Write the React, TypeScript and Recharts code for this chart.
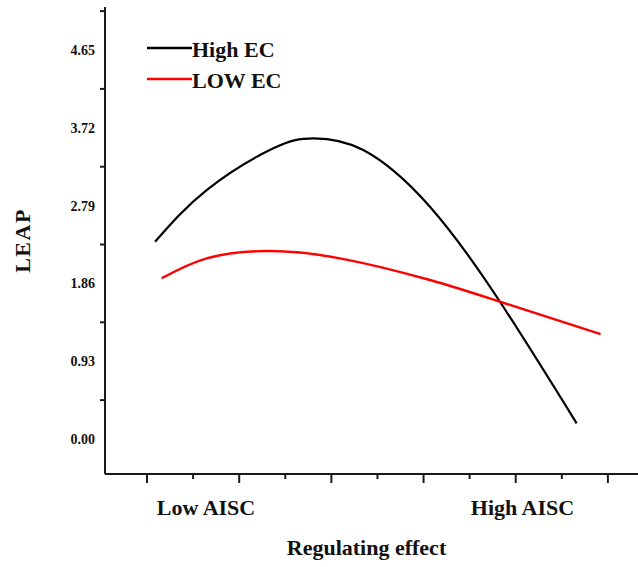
import React from 'react';
import { LineChart, Line, XAxis, YAxis, Legend } from 'recharts';

// x is measured in major-tick steps, y in LEAP units
const highX = [0.087, 0.647, 1.37, 1.804, 2.346, 3.069, 3.829, 4.661];
const highY = [2.358, 2.976, 3.475, 3.594, 3.454, 2.777, 1.641, 0.188];
const lowX = [0.159, 0.647, 1.298, 2.093, 3.069, 3.829, 4.921];
const lowY = [1.921, 2.16, 2.247, 2.16, 1.901, 1.641, 1.255];

const yLabelTicks = [0, 0.93, 1.86, 2.79, 3.72, 4.65];
const yMarkTicks = [0.465, 1.395, 2.325, 3.255, 4.185, 5.115];
const xMajorTicks = [0, 1, 2, 3, 4, 5];
const xMinorTicks = [0.5, 1.5, 2.5, 3.5, 4.5];
const xCategoryTicks = [0.64, 4.073];
const xCategoryLabels = ['Low AISC', 'High AISC'];

const highData = highX.map((x, i) => ({ x, y: highY[i] }));
const lowData = lowX.map((x, i) => ({ x, y: lowY[i] }));

const FONT = "'Times New Roman', 'Liberation Serif', serif";
const AXIS = '#1a1a1a';

function YTick(props: any) {
  const { x, y, payload } = props;
  const v = payload.value;
  if (yLabelTicks.includes(v)) {
    return (
      <text x={x - 10} y={y} dy={5} textAnchor="end" fontFamily={FONT} fontWeight="bold" fontSize={14} fill="#111">
        {v.toFixed(2)}
      </text>
    );
  }
  return <line x1={x - 5} x2={x} y1={y} y2={y} stroke={AXIS} strokeWidth={2} />;
}

function XTick(props: any) {
  const { x, y, payload } = props;
  const v = payload.value;
  const ci = xCategoryTicks.indexOf(v);
  if (ci >= 0) {
    return (
      <text x={x} y={y + 41} textAnchor="middle" fontFamily={FONT} fontWeight="bold" fontSize={22} fill="#111">
        {xCategoryLabels[ci]}
      </text>
    );
  }
  const len = xMajorTicks.includes(v) ? 9 : 5;
  return <line x1={x} x2={x} y1={y} y2={y + len} stroke={AXIS} strokeWidth={2} />;
}

function LegendBox() {
  const rows = [
    { name: 'High EC', color: '#000000' },
    { name: 'LOW EC', color: '#ff0000' },
  ];
  return (
    <svg width={170} height={64}>
      {rows.map((r, i) => (
        <g key={r.name}>
          <line x1={2} x2={47} y1={15 + i * 31} y2={15 + i * 31} stroke={r.color} strokeWidth={2.6} />
          <text x={47} y={24 + i * 31} fontFamily={FONT} fontWeight="bold" fontSize={22} fill="#111">
            {r.name}
          </text>
        </g>
      ))}
    </svg>
  );
}

export default function App() {
  return (
    <div style={{ position: 'absolute', left: 0, top: 0, width: 638, height: 567, overflow: 'hidden', background: '#fff' }}>
      <LineChart width={645} height={567} margin={{ top: 7, right: 3, left: 0, bottom: 0 }}>
        <XAxis
          xAxisId="top"
          orientation="top"
          dataKey="x"
          type="number"
          domain={[-0.456, 5.37]}
          allowDataOverflow
          height={0}
          tick={false}
          tickLine={false}
          axisLine={{ stroke: AXIS, strokeWidth: 2 }}
        />
        <XAxis
          dataKey="x"
          type="number"
          domain={[-0.456, 5.37]}
          allowDataOverflow
          ticks={[...xMajorTicks, ...xMinorTicks, ...xCategoryTicks]}
          interval={0}
          tick={<XTick />}
          tickLine={false}
          tickSize={0}
          tickMargin={0}
          height={93}
          axisLine={{ stroke: AXIS, strokeWidth: 2 }}
          label={{
            content: (p: any) => {
              const vb = p.viewBox;
              return (
                <text x={vb.x + 261.5} y={vb.y + 81} textAnchor="middle" fontFamily={FONT} fontWeight="bold" fontSize={22} fill="#111">
                  Regulating effect
                </text>
              );
            },
          }}
        />
        <YAxis
          type="number"
          domain={[-0.418, 5.164]}
          allowDataOverflow
          ticks={[...yLabelTicks, ...yMarkTicks]}
          interval={0}
          tick={<YTick />}
          tickLine={false}
          tickSize={0}
          tickMargin={0}
          width={105}
          axisLine={{ stroke: AXIS, strokeWidth: 2 }}
          label={{
            content: (p: any) => {
              const vb = p.viewBox;
              const cx = vb.x + 22;
              const cy = vb.y + vb.height / 2;
              return (
                <text
                  x={cx}
                  y={cy}
                  dy={8}
                  textAnchor="middle"
                  transform={`rotate(-90 ${cx} ${cy})`}
                  fontFamily={FONT}
                  fontWeight="bold"
                  fontSize={22}
                  letterSpacing={1.5}
                  fill="#111"
                >
                  LEAP
                </text>
              );
            },
          }}
        />
        <Legend
          layout="vertical"
          align="center"
          verticalAlign="middle"
          content={<LegendBox />}
          wrapperStyle={{ left: 145, top: 33, width: 170 }}
        />
        <Line
          data={highData}
          dataKey="y"
          name="High EC"
          type="natural"
          stroke="#000000"
          strokeWidth={2.2}
          dot={false}
          activeDot={false}
          isAnimationActive={false}
        />
        <Line
          data={lowData}
          dataKey="y"
          name="LOW EC"
          type="natural"
          stroke="#ff0000"
          strokeWidth={2.4}
          dot={false}
          activeDot={false}
          isAnimationActive={false}
        />
      </LineChart>
    </div>
  );
}
